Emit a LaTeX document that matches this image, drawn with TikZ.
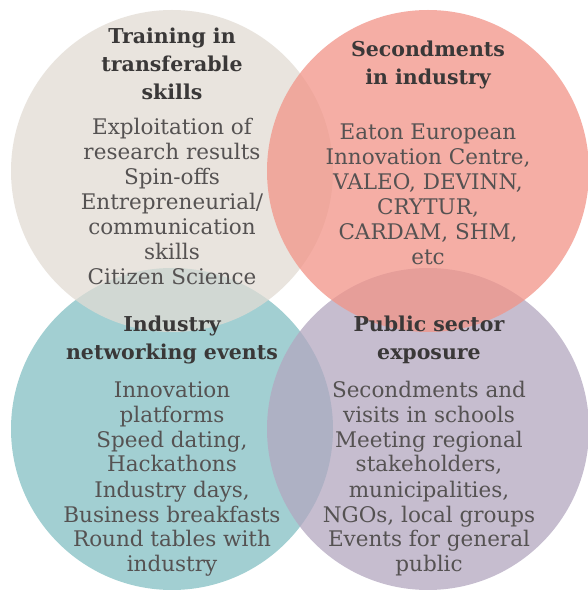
\documentclass[tikz,border=0pt]{standalone}
\usepackage{fontspec}
\setmainfont{DejaVu Serif}
\definecolor{beigeC}{RGB}{226,220,212}
\definecolor{salmonC}{RGB}{242,148,136}
\definecolor{tealC}{RGB}{131,192,195}
\definecolor{lavC}{RGB}{179,167,192}
\definecolor{headC}{RGB}{58,56,56}
\definecolor{bodyC}{RGB}{85,82,82}
\tikzset{
  disc/.style={circle, minimum size=322pt, inner sep=0pt, fill opacity=0.75, draw=none},
  head/.style={align=center, inner sep=0pt, anchor=base, text=headC, font=\bfseries\fontsize{20.5}{28}\selectfont},
  body/.style={align=center, inner sep=0pt, anchor=base, text=bodyC, font=\fontsize{21.5}{25}\selectfont}
}
\begin{document}
\begin{tikzpicture}[x=1pt,y=1pt]
\useasboundingbox (0,0) rectangle (588,590);
\fill[white] (0,0) rectangle (588,590);
\begin{scope}
\clip (0,0) rectangle (588,590);
\node[disc, fill=tealC] (teal) at (172,161) {};
\node[disc, fill=lavC] (lav) at (428,161) {};
\node[disc, fill=beigeC] (beige) at (172,419) {};
\node[disc, fill=salmonC] (salmon) at (428,419) {};
\end{scope}
% anchor=base aligns the LAST line's baseline
\node[head] (h1) at (172,490) {Training in\\transferable\\skills};
\node[body] (b1) at (172,305) {Exploitation of\\research results\\Spin-offs\\Entrepreneurial/\\communication\\skills\\Citizen Science};
\node[head] (h2) at (428,505) {Secondments\\in industry};
\node[body] (b2) at (428,325) {Eaton European\\Innovation Centre,\\VALEO, DEVINN,\\CRYTUR,\\CARDAM, SHM,\\etc};
\node[head] (h3) at (172,230) {Industry\\networking events};
\node[body] (b3) at (172,18) {Innovation\\platforms\\Speed dating,\\Hackathons\\Industry days,\\Business breakfasts\\Round tables with\\industry};
\node[head] (h4) at (429,230) {Public sector\\exposure};
\node[body] (b4) at (429,18) {Secondments and\\visits in schools\\Meeting regional\\stakeholders,\\municipalities,\\NGOs, local groups\\Events for general\\public};
\end{tikzpicture}
\end{document}
